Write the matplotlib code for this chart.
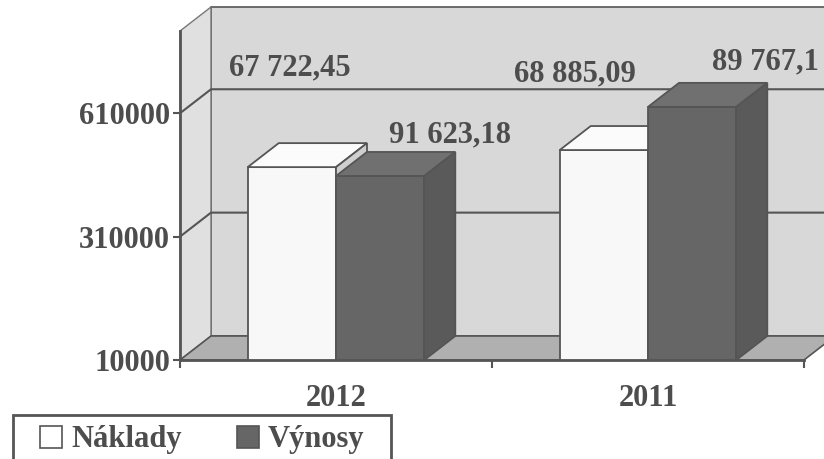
#!/usr/bin/env python3
import matplotlib
matplotlib.use('Agg')
import matplotlib.pyplot as plt
from matplotlib.patches import Polygon, Rectangle, Patch

# data
years = ['2012', '2011']
naklady = [479000, 520500]
vynosy = [457500, 625500]
naklady_labels = ['67 722,45', '68 885,09']
vynosy_labels = ['91 623,18', '89 767,1']
y_ticks = [10000, 310000, 610000]
Y_MIN, Y_MAX = 10000, 810000

# layout / style
W_PX, H_PX = 824, 459
DEPTH_PX = (31, 24)
BAR_W = 0.283
TXT = '#4d4d4d'
EDGE = '#555555'
WALL = '#d8d8d8'
SIDE_WALL = '#e0e0e0'
FLOOR = '#b0b0b0'
FS = 22

plt.rcParams['font.family'] = ['Liberation Serif', 'DejaVu Serif']
plt.rcParams['font.weight'] = 'bold'

fig = plt.figure(figsize=(W_PX / 100, H_PX / 100), dpi=100)
ax = fig.add_axes([180 / W_PX, (H_PX - 360) / H_PX, 624 / W_PX, 329 / H_PX])
ax.set_xlim(0, len(years))
ax.set_ylim(Y_MIN, Y_MAX)
ax.patch.set_visible(False)

# depth offset in data units
pos = ax.get_position()
DX = len(years) * DEPTH_PX[0] / (pos.width * W_PX)
DY = (Y_MAX - Y_MIN) * DEPTH_PX[1] / (pos.height * H_PX)
XR = len(years)

# back wall, side wall, floor
ax.add_patch(Rectangle((DX, Y_MIN + DY), XR, Y_MAX - Y_MIN, facecolor=WALL,
                       edgecolor=EDGE, lw=1.2, clip_on=False, zorder=0.5))
ax.add_patch(Polygon([(0, Y_MIN), (DX, Y_MIN + DY), (DX, Y_MAX + DY), (0, Y_MAX)],
                     facecolor=SIDE_WALL, edgecolor='#777777', lw=1.0,
                     clip_on=False, zorder=0.6))
ax.add_patch(Polygon([(0, Y_MIN), (XR, Y_MIN), (XR + DX, Y_MIN + DY), (DX, Y_MIN + DY)],
                     facecolor=FLOOR, edgecolor=EDGE, lw=1.2, clip_on=False, zorder=0.7))
for t in y_ticks[1:]:
    ax.plot([0, DX, XR + DX], [t, t + DY, t + DY], color=EDGE, lw=1.5,
            clip_on=False, zorder=0.8)


def box(x0, h, front, top, side, z):
    ax.bar(x0, h - Y_MIN, bottom=Y_MIN, width=BAR_W, align='edge', color=front,
           edgecolor=EDGE, lw=1.3, zorder=z)
    x1 = x0 + BAR_W
    ax.add_patch(Polygon([(x0, h), (x1, h), (x1 + DX, h + DY), (x0 + DX, h + DY)],
                         facecolor=top, edgecolor=EDGE, lw=1.3, zorder=z, clip_on=False))
    ax.add_patch(Polygon([(x1, Y_MIN), (x1 + DX, Y_MIN + DY), (x1 + DX, h + DY), (x1, h)],
                         facecolor=side, edgecolor=EDGE, lw=1.3, zorder=z, clip_on=False))


centers = [i + 0.5 for i in range(len(years))]
for i, c in enumerate(centers):
    box(c - BAR_W, naklady[i], '#f8f8f8', '#fbfbfb', '#cfcfcf', 2 + i)
    box(c, vynosy[i], '#666666', '#707070', '#5a5a5a', 2.5 + i)

# value labels (offsets in pixels from the front top centre)
nak_off = [(-2, 99), (-29, 76)]
vyn_off = [(70, 41), (73, 45)]
for i, c in enumerate(centers):
    ax.annotate(naklady_labels[i], (c - BAR_W / 2, naklady[i]), xytext=nak_off[i],
                textcoords='offset pixels', ha='center', va='center',
                fontsize=FS, color=TXT, zorder=10, annotation_clip=False)
    ax.annotate(vynosy_labels[i], (c + BAR_W / 2, vynosy[i]), xytext=vyn_off[i],
                textcoords='offset pixels', ha='center', va='center',
                fontsize=FS, color=TXT, zorder=10, annotation_clip=False)

# axes
for s in ['top', 'right']:
    ax.spines[s].set_visible(False)
for s in ['left', 'bottom']:
    ax.spines[s].set_color(EDGE)
    ax.spines[s].set_linewidth(2)
    ax.spines[s].set_zorder(1)
ax.set_yticks(y_ticks)
ax.set_yticklabels([str(t) for t in y_ticks])
ax.tick_params(axis='y', direction='out', length=5, width=1.5, color=EDGE,
               labelsize=FS, labelcolor=TXT, pad=2)
ax.set_xticks(range(len(years) + 1))
ax.set_xticklabels([])
ax.set_xticks(centers, minor=True)
ax.set_xticklabels(years, minor=True)
ax.tick_params(axis='x', which='major', direction='out', length=6, width=1.5, color=EDGE)
ax.tick_params(axis='x', which='minor', length=0, labelsize=FS, labelcolor=TXT, pad=17)

# legend: frameless legend inside a box that runs off the bottom edge
handles = [Patch(facecolor='white', edgecolor=EDGE, lw=1.2),
           Patch(facecolor='#666666', edgecolor=EDGE, lw=1.2)]
fig.legend(handles, ['Náklady', 'Výnosy'], loc='center left', ncol=2,
           bbox_to_anchor=(40 / W_PX, (H_PX - 440) / H_PX),
           borderaxespad=0, borderpad=0, frameon=False,
           prop=dict(family='Liberation Serif', weight='bold', size=FS),
           labelcolor=TXT, handlelength=0.72, handleheight=0.72,
           handletextpad=0.3, columnspacing=1.8)
fig.add_artist(Rectangle((13 / W_PX, -0.05), 378 / W_PX, (H_PX - 415) / H_PX + 0.05,
                         transform=fig.transFigure, facecolor='none',
                         edgecolor=EDGE, lw=2, clip_on=False))

fig.savefig('out.png', dpi=100, facecolor='white')
